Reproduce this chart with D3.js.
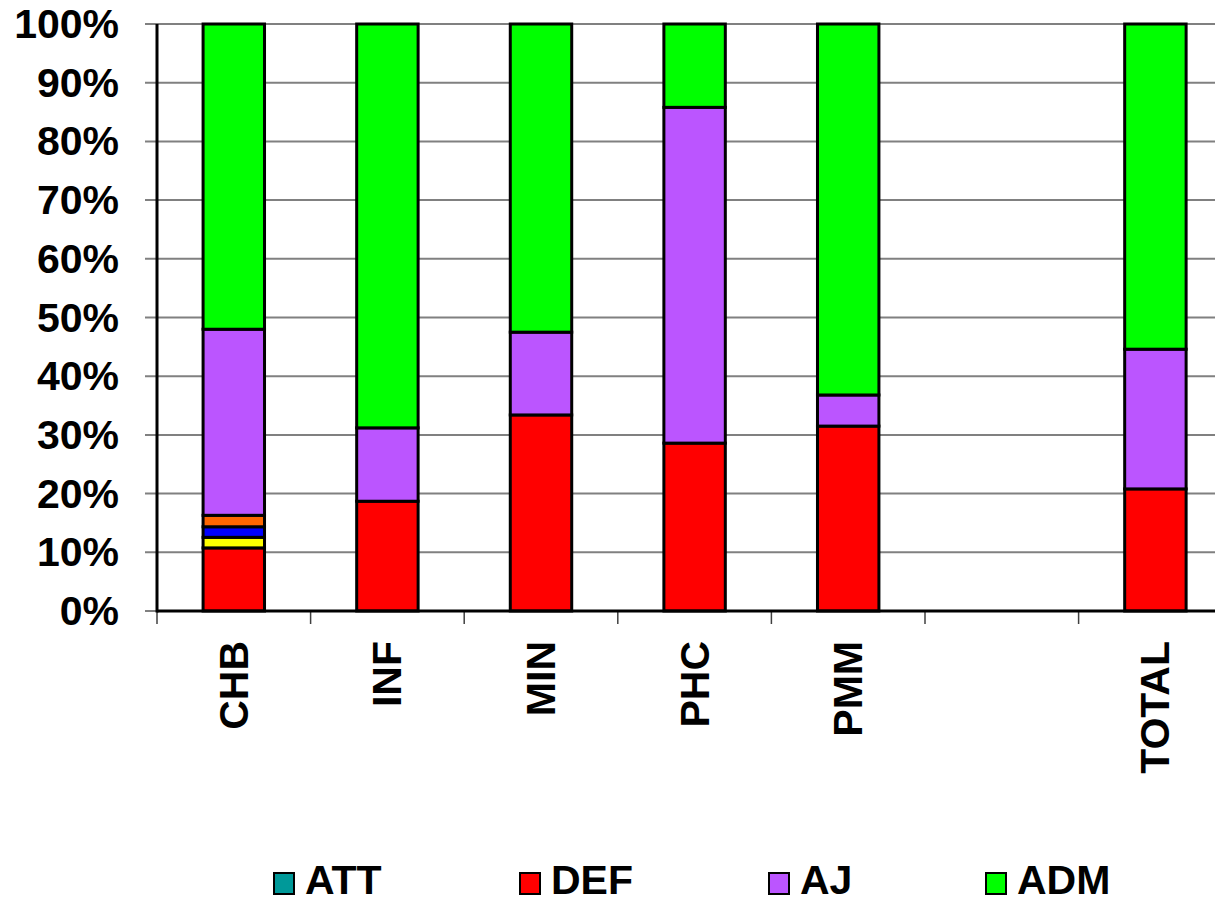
<!DOCTYPE html>
<html>
<head>
<meta charset="utf-8">
<script src="https://cdn.jsdelivr.net/npm/d3@7"></script>
<style>
  html, body { margin: 0; padding: 0; background: #fff; overflow: hidden; }
  svg { display: block; }
  text { font-family: Arial, "Liberation Sans", sans-serif; font-weight: bold; fill: #000; }
</style>
</head>
<body>
<svg id="chart" width="1215" height="904"></svg>
<script>
// Categories along the x axis (one empty slot before TOTAL)
const categories = ["CHB", "INF", "MIN", "PHC", "PMM", "", "TOTAL"];

// Stacked shares in percent, bottom to top
const attValues    = [0,    0,    0,    0,    0,    null, 0];
const defValues    = [10.75, 18.7, 33.4, 28.6, 31.5, null, 20.8];
const yellowValues = [1.8,  0,    0,    0,    0,    null, 0];
const blueValues   = [1.8,  0,    0,    0,    0,    null, 0];
const orangeValues = [1.95, 0,    0,    0,    0,    null, 0];
const ajValues     = [31.7, 12.5, 14.1, 57.2, 5.3,  null, 23.8];
const admValues    = [52.0, 68.8, 52.5, 14.2, 63.2, null, 55.4];

const yTicks = [0, 10, 20, 30, 40, 50, 60, 70, 80, 90, 100];
const tickLabels = yTicks.map(v => v + "%");

const series = [
  { key: "ATT", values: attValues,    color: "#009999", legend: true },
  { key: "DEF", values: defValues,    color: "#FF0000", legend: true },
  { key: "Y",   values: yellowValues, color: "#FFFF00", legend: false },
  { key: "B",   values: blueValues,   color: "#0000FF", legend: false },
  { key: "O",   values: orangeValues, color: "#FF6600", legend: false },
  { key: "AJ",  values: ajValues,     color: "#BB55FF", legend: true },
  { key: "ADM", values: admValues,    color: "#00FF00", legend: true }
];

const svg = d3.select("#chart");
const W = 1215;
const plotLeft = 157, plotTop = 24, plotBottom = 611;

const x = d3.scaleBand()
  .domain(categories)
  .range([plotLeft, plotLeft + 7 * 153.6])
  .paddingInner(0.6)
  .paddingOuter(0.3);

const y = d3.scaleLinear().domain([0, 100]).range([plotBottom, plotTop]);

// Horizontal gridlines (also form the left tick marks)
svg.append("g")
  .selectAll("line")
  .data(yTicks)
  .join("line")
  .attr("x1", plotLeft - 12)
  .attr("x2", W)
  .attr("y1", d => y(d))
  .attr("y2", d => y(d))
  .attr("stroke", "#808080")
  .attr("stroke-width", 2);

// Y tick labels
svg.append("g")
  .selectAll("text")
  .data(yTicks)
  .join("text")
  .attr("x", 119)
  .attr("y", d => y(d) + 14)
  .attr("text-anchor", "end")
  .attr("font-size", 41)
  .text((d, i) => tickLabels[i]);

// Stack the series
const rows = categories.map((c, i) => {
  const r = { cat: c };
  series.forEach(s => { r[s.key] = s.values[i] == null ? 0 : s.values[i]; });
  return r;
});
const stacked = d3.stack().keys(series.map(s => s.key))(rows);

const barsG = svg.append("g");
stacked.forEach((layer, si) => {
  barsG.append("g")
    .selectAll("rect")
    .data(layer.filter(d => d[1] - d[0] > 0))
    .join("rect")
    .attr("x", d => x(d.data.cat))
    .attr("width", x.bandwidth())
    .attr("y", d => y(d[1]))
    .attr("height", d => y(d[0]) - y(d[1]))
    .attr("fill", series[si].color)
    .attr("stroke", "#000")
    .attr("stroke-width", 3);
});

// Category boundary ticks below the axis
const step = x.step();
const boundaries = d3.range(categories.length + 1).map(i => plotLeft + i * step);
svg.append("g")
  .selectAll("line")
  .data(boundaries)
  .join("line")
  .attr("x1", d => d).attr("x2", d => d)
  .attr("y1", plotBottom).attr("y2", plotBottom + 13)
  .attr("stroke", "#404040")
  .attr("stroke-width", 1.5);

// Axes lines
svg.append("line")
  .attr("x1", plotLeft).attr("x2", plotLeft)
  .attr("y1", plotTop).attr("y2", plotBottom + 1.5)
  .attr("stroke", "#000").attr("stroke-width", 3);
svg.append("line")
  .attr("x1", plotLeft).attr("x2", W)
  .attr("y1", plotBottom).attr("y2", plotBottom)
  .attr("stroke", "#000").attr("stroke-width", 3);

// Rotated category labels
svg.append("g")
  .selectAll("text")
  .data(categories)
  .join("text")
  .attr("transform", d => `translate(${x(d) + x.bandwidth() / 2 + 14},641) rotate(-90)`)
  .attr("text-anchor", "end")
  .attr("font-size", 41)
  .text(d => d);

// Legend
const legendItems = series.filter(s => s.legend);
const legendX = [273, 519, 768, 985];
const lg = svg.append("g").selectAll("g")
  .data(legendItems)
  .join("g")
  .attr("transform", (d, i) => `translate(${legendX[i]},0)`);
lg.append("rect")
  .attr("x", 1).attr("y", 873)
  .attr("width", 20).attr("height", 21)
  .attr("fill", d => d.color)
  .attr("stroke", "#000").attr("stroke-width", 2);
lg.append("text")
  .attr("x", 32).attr("y", 894)
  .attr("font-size", 41)
  .text(d => d.key);
</script>
</body>
</html>
